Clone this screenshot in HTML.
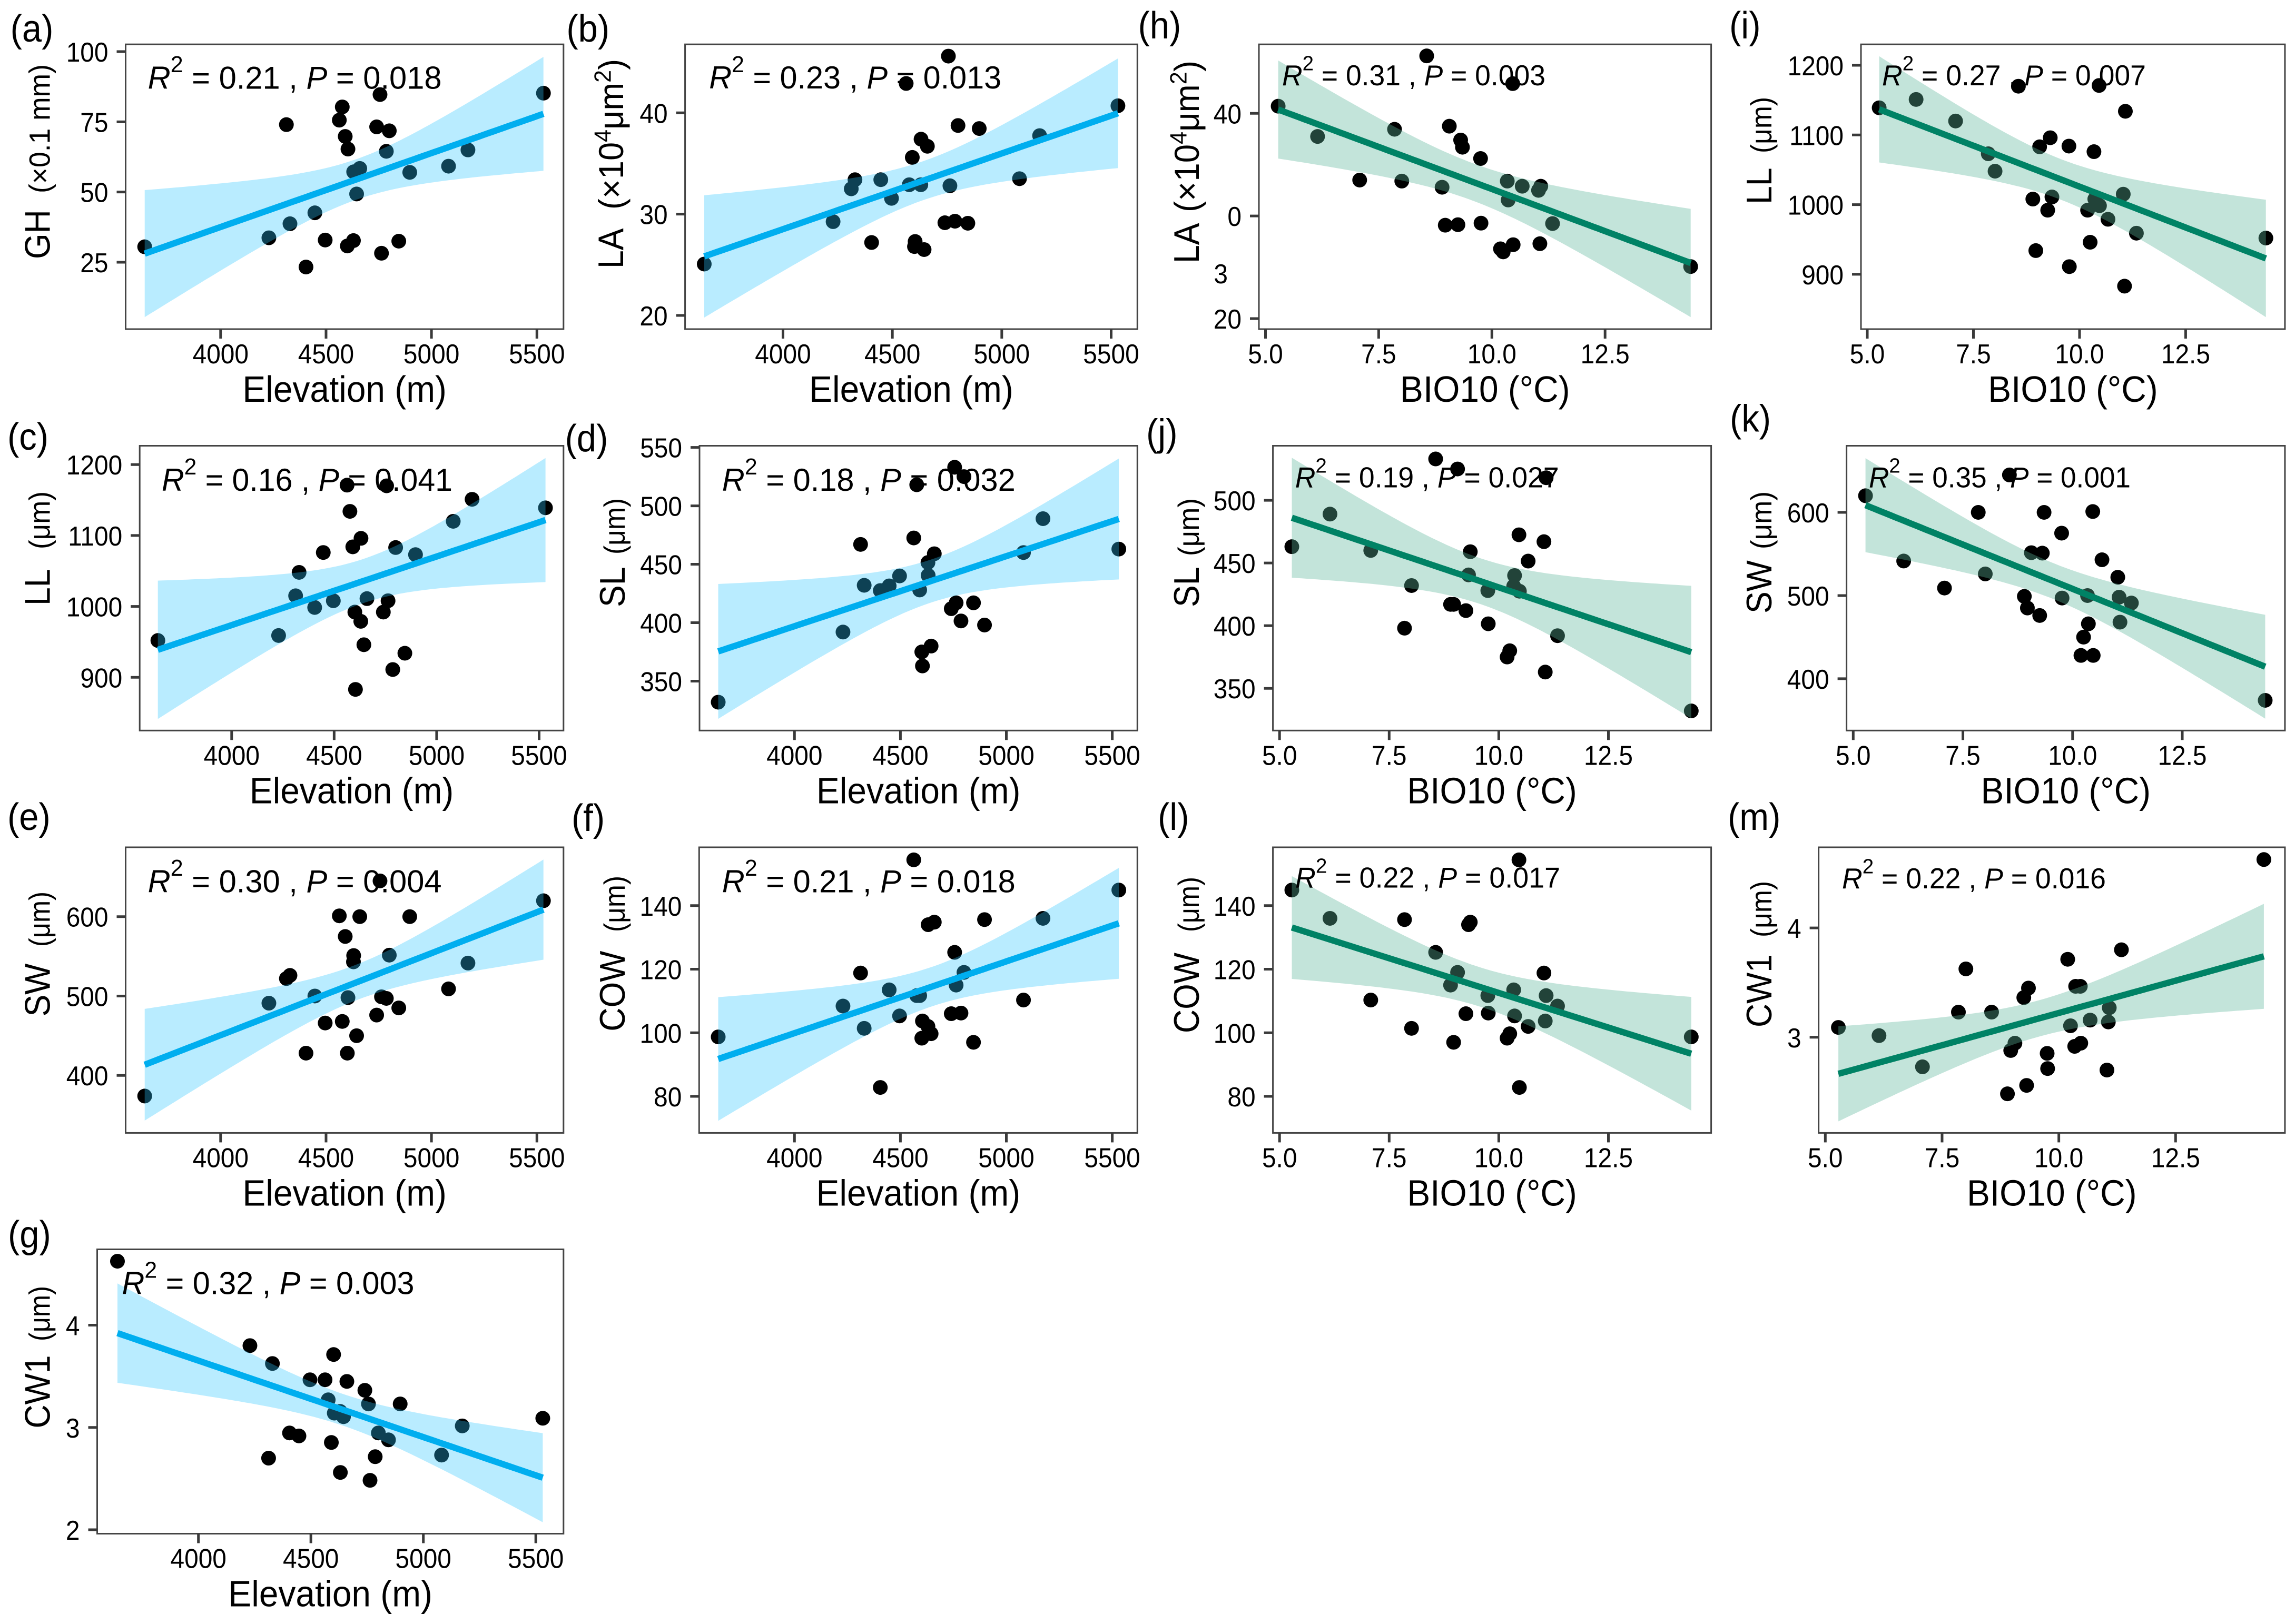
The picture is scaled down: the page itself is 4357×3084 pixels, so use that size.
<!DOCTYPE html>
<html lang="en">
<head>
<meta charset="utf-8">
<title>Trait regressions against elevation and BIO10</title>
<style>
html,body{margin:0;padding:0;background:#fff;}
svg{display:block;font-family:"Liberation Sans",Arial,sans-serif;}
</style>
</head>
<body>
<svg id="figure" xmlns="http://www.w3.org/2000/svg" width="4357" height="3084" viewBox="0 0 4357 3084">
<rect x="0" y="0" width="4357" height="3084" fill="#ffffff"></rect>
</svg>
<script>
// ---- values (one entry per site, same order everywhere) ----
const elevation = [3640,4229,4312,4329,4405,4447,4496,4563,4577,4591,4604,4601,4630,4631,4660,4645,4740,4756,4763,4786,4800,4845,4897,5081,5173,5531];
const bio10 = [14.39,11.34,11.03,8.01,10.47,10.34,10.36,10.46,11.08,9.75,11.06,10.19,10.67,9.31,9.35,10.25,9.25,8.56,8.9,9.76,9.06,8.97,7.85,7.08,6.15,5.28];
const gh = [30.5,33.7,74,38.7,23.3,42.6,32.9,75.6,80.3,69.8,65.3,30.8,32.7,57.2,58.4,49.3,73.2,84.7,28.2,64.5,71.8,32.5,57,59.2,65,85.2];
const la = [25.07,29.26,32.5,33.4,27.2,33.4,31.56,42.9,32.9,35.6,27.3,26.8,32.9,37.4,36.7,26.5,29.15,45.6,32.8,29.3,38.75,29.1,38.45,33.5,37.75,40.7];
const ll = [952,959,1015,1048,998.5,1076,1008,1171,1134,1084,883,992,979,1096,1011,946,992,1170,1008,911,1083,934,1073,1120,1151,1139];
const sl = [332,392,467,432,427.5,431.5,440,472.5,518,428,363,375,451.5,440.5,459,380,412,533,417,401.5,525,417,398,460,489,463];
const sw = [374,491,522,526,428,500,466,601,468,575,498,428,543,551,600,450,476,645,499,497,551.5,485,600,509,541.5,620];
const cow = [98.7,108.4,118.8,101.4,82.8,113.5,105.3,154.4,111.7,111.7,103.7,98.3,102,134,134.8,99.7,106,125.3,115,106.2,119,97,135.6,110.3,136,144.9];
const cw1 = [4.625,3.8,2.7,3.625,2.946,2.917,3.466,3.466,3.27,2.853,3.14,3.713,3.157,2.56,3.45,3.105,3.363,3.23,2.483,2.714,2.946,2.879,3.23,2.73,3.015,3.09];

// ---- tick values and their printed labels ----
const elevTicks = [4000,4500,5000,5500];
const elevTickLabels = ['4000','4500','5000','5500'];
const bioTicks = [5,7.5,10,12.5];
const bioTickLabels = ['5.0','7.5','10.0','12.5'];
const ghTicks = [25,50,75,100];
const laTicks = [20,30,40];
const laGarbledTickLabels = ['20','0','40'];
const llTicks = [900,1000,1100,1200];
const slTicksLong = [350,400,450,500,550];
const slTicksShort = [350,400,450,500];
const swTicks = [400,500,600];
const cowTicks = [80,100,120,140];
const cw1TicksLong = [2,3,4];
const cw1TicksShort = [3,4];

// ---- panel definitions ----
const panels = [
 {id:'a',xv:elevation,yv:gh, xt:elevTicks,xl:elevTickLabels,yt:ghTicks,yl:ghTicks.map(String),xTitle:'Elevation (m)',main:'GH',unit:[['(×0.1 mm)',0]],r2:'0.21',p:'0.018',theme:'blue',
  L:238.5,R:1069.8,T:84.2,B:625,xc:[4000,418.8,5500,1019.3],yc:[100,98,25,498],lab:[19.6,79],ax:94.7,main0:492,unit0:367,unit1:122,ann:[280.6,168.4,55,558]},
 {id:'b',xv:elevation,yv:la, xt:elevTicks,xl:elevTickLabels,yt:laTicks,yl:laTicks.map(String),xTitle:'Elevation (m)',main:'LA',unit:[['(×10',0],['4',1],['μm',0],['2',1],[')',0]],r2:'0.23',p:'0.013',theme:'blue',
  L:1300.6,R:2159.3,T:84.2,B:625,xc:[4000,1486.5,5500,2109.5],yc:[40,214.3,20,599],lab:[1075.4,79],ax:1183,main0:510,unit0:398,unit1:112,ann:[1346.2,168,55,555]},
 {id:'c',xv:elevation,yv:ll, xt:elevTicks,xl:elevTickLabels,yt:llTicks,yl:llTicks.map(String),xTitle:'Elevation (m)',main:'LL',unit:[['(μm)',0]],r2:'0.16',p:'0.041',theme:'blue',
  L:265.2,R:1069.8,T:846.5,B:1387.3,xc:[4000,439.8,5500,1023.5],yc:[1200,882.2,900,1286.3],lab:[14,854],ax:94.7,main0:1150,unit0:1043,unit1:933,ann:[307,932,55,552]},
 {id:'d',xv:elevation,yv:sl, xt:elevTicks,xl:elevTickLabels,yt:slTicksLong,yl:slTicksLong.map(String),xTitle:'Elevation (m)',main:'SL',unit:[['(μm)',0]],r2:'0.18',p:'0.032',theme:'blue',
  L:1328,R:2159.3,T:846.5,B:1387.3,xc:[4000,1508.3,5500,2111.6],yc:[550,849.6,350,1293.5],lab:[1072.6,857],ax:1186,main0:1153,unit0:1053,unit1:946,ann:[1370.8,932,55,557]},
 {id:'e',xv:elevation,yv:sw, xt:elevTicks,xl:elevTickLabels,yt:swTicks,yl:swTicks.map(String),xTitle:'Elevation (m)',main:'SW',unit:[['(μm)',0]],r2:'0.30',p:'0.004',theme:'blue',
  L:238.5,R:1069.8,T:1609,B:2151.4,xc:[4000,418.8,5500,1019.3],yc:[600,1740.7,400,2042.2],lab:[14,1576],ax:94.7,main0:1930.5,unit0:1798,unit1:1693,ann:[280.6,1694.3,55,558]},
 {id:'f',xv:elevation,yv:cow,xt:elevTicks,xl:elevTickLabels,yt:cowTicks,yl:cowTicks.map(String),xTitle:'Elevation (m)',main:'COW',unit:[['(μm)',0]],r2:'0.21',p:'0.018',theme:'blue',
  L:1327.3,R:2159.3,T:1609,B:2151.4,xc:[4000,1508.3,5500,2111.6],yc:[140,1719.8,80,2082],lab:[1085,1578],ax:1186,main0:1958.6,unit0:1770,unit1:1663,ann:[1370.8,1694.3,55,557]},
 {id:'g',xv:elevation,yv:cw1,xt:elevTicks,xl:elevTickLabels,yt:cw1TicksLong,yl:cw1TicksLong.map(String),xTitle:'Elevation (m)',main:'CW1',unit:[['(μm)',0]],r2:'0.32',p:'0.003',theme:'blue',
  L:184.5,R:1069.8,T:2372.5,B:2912.5,xc:[4000,376.7,5500,1017.2],yc:[4,2516.5,2,2905],lab:[15,2369],ax:94.7,main0:2712.5,unit0:2547,unit1:2442,ann:[231.5,2457.5,55,555]},
 {id:'h',xv:bio10,yv:la, xt:bioTicks,xl:bioTickLabels,yt:laTicks,yl:laGarbledTickLabels,xTitle:'BIO10 (°C)',main:'LA',unit:[['(×10',0],['4',1],['μm',0],['2',1],[')',0]],r2:'0.31',p:'0.003',theme:'green',
  L:2390,R:3248.6,T:84.2,B:625,xc:[5,2402.5,12.5,3047.2],yc:[40,215.3,20,605],lab:[2160.5,73],ax:2276,main0:500,unit0:403,unit1:115,ann:[2434,162,50,500],stray:{text:'3',x:2331,y:538}},
 {id:'i',xv:bio10,yv:ll, xt:bioTicks,xl:bioTickLabels,yt:llTicks,yl:llTicks.map(String),xTitle:'BIO10 (°C)',main:'LL',unit:[['(μm)',0]],r2:'0.27',p:'0.007',theme:'green',
  L:3533,R:4337.9,T:84.2,B:625,xc:[5,3545,12.5,4149.4],yc:[1200,124,900,520.9],lab:[3283,73],ax:3363,main0:388,unit0:291,unit1:184,ann:[3573,162,50,501]},
 {id:'j',xv:bio10,yv:sl, xt:bioTicks,xl:bioTickLabels,yt:slTicksShort,yl:slTicksShort.map(String),xTitle:'BIO10 (°C)',main:'SL',unit:[['(μm)',0]],r2:'0.19',p:'0.027',theme:'green',
  L:2416.6,R:3248.6,T:846.5,B:1387.3,xc:[5,2429.2,12.5,3053.5],yc:[500,950.1,350,1307.2],lab:[2176,846.5],ax:2276,main0:1153,unit0:1056,unit1:946,ann:[2458.7,925.6,50,501]},
 {id:'k',xv:bio10,yv:sw, xt:bioTicks,xl:bioTickLabels,yt:swTicks,yl:swTicks.map(String),xTitle:'BIO10 (°C)',main:'SW',unit:[['(μm)',0]],r2:'0.35',p:'0.001',theme:'green',
  L:3505.6,R:4337.9,T:846.5,B:1387.3,xc:[5,3518.3,12.5,4143],yc:[600,973,400,1288.9],lab:[3284,819.5],ax:3363,main0:1165,unit0:1043,unit1:933,ann:[3548,925.6,50,497]},
 {id:'l',xv:bio10,yv:cow,xt:bioTicks,xl:bioTickLabels,yt:cowTicks,yl:cowTicks.map(String),xTitle:'BIO10 (°C)',main:'COW',unit:[['(μm)',0]],r2:'0.22',p:'0.017',theme:'green',
  L:2416.6,R:3248.6,T:1609,B:2151.4,xc:[5,2429.2,12.5,3053.5],yc:[140,1719.8,80,2082],lab:[2198,1576],ax:2276,main0:1962,unit0:1770,unit1:1665,ann:[2459,1685.6,50,503]},
 {id:'m',xv:bio10,yv:cw1,xt:bioTicks,xl:bioTickLabels,yt:cw1TicksShort,yl:cw1TicksShort.map(String),xTitle:'BIO10 (°C)',main:'CW1',unit:[['(μm)',0]],r2:'0.22',p:'0.016',theme:'green',
  L:3452.6,R:4337.9,T:1609,B:2151.4,xc:[5,3465.3,12.5,4130.3],yc:[4,1762.1,3,1969.8],lab:[3280,1576],ax:3363,main0:1951,unit0:1780,unit1:1673,ann:[3497,1687,50,501]}
];

const themes = {
  blue:{line:'#00AEEF',band:'rgba(42,197,255,0.33)'},
  green:{line:'#008265',band:'rgba(93,182,155,0.37)'}
};

const NS = 'http://www.w3.org/2000/svg';
const root = document.getElementById('figure');
const AXIS = '#444444';
const TICK = '#3a3a3a';
const INK = '#000000';

function make(tag, attrs, parent, text){
  const el = document.createElementNS(NS, tag);
  for (const k in attrs) el.setAttribute(k, attrs[k]);
  if (text !== undefined) el.textContent = text;
  parent.appendChild(el);
  return el;
}

// the reference text is taller than it is wide: squeeze glyphs horizontally
function squeeze(el, factor){
  el.setAttribute('textLength', (el.getComputedTextLength()*factor).toFixed(1));
  el.setAttribute('lengthAdjust', 'spacingAndGlyphs');
}

// axis function: linear mapping through two calibration points [v0, px0, v1, px1]
function axisScale(c){
  const k = (c[3] - c[1]) / (c[2] - c[0]);
  return function(v){ return c[1] + (v - c[0]) * k; };
}

// ordinary least squares fit with 95% pointwise confidence band
function fit(xs, ys){
  const n = xs.length;
  const mx = xs.reduce((a,b)=>a+b,0)/n;
  const my = ys.reduce((a,b)=>a+b,0)/n;
  let sxx = 0, sxy = 0;
  for (let i=0;i<n;i++){ sxx += (xs[i]-mx)*(xs[i]-mx); sxy += (xs[i]-mx)*(ys[i]-my); }
  const b = sxy/sxx, a = my - b*mx;
  let sse = 0;
  for (let i=0;i<n;i++){ const r = ys[i]-(a+b*xs[i]); sse += r*r; }
  const s = Math.sqrt(sse/(n-2));
  const tcrit = 2.064;
  return {
    at:function(x){ return a+b*x; },
    half:function(x){ return tcrit*s*Math.sqrt(1/n+(x-mx)*(x-mx)/sxx); }
  };
}

panels.forEach(function(p){
  const g = make('g', {}, root);
  
  

  const sx = axisScale(p.xc);
  const sy = axisScale(p.yc);
  const theme = themes[p.theme];

  // panel letter
  const letter = make('text', {x:p.lab[0], y:p.lab[1], 'font-size':72, fill:INK}, g, '(' + p.id + ')');
  
  
  squeeze(letter, 0.93);

  // points first; the ribbon is translucent on top of them
  const pts = make('g', {}, g);
  
  
  p.xv.forEach(function(xVal, i){
    const dot = make('circle', {cx:sx(xVal), cy:sy(p.yv[i]), r:14, fill:'#000000'}, pts);
    
    
  });

  // regression line + confidence ribbon
  const model = fit(p.xv, p.yv);
  const lo = Math.min.apply(null, p.xv);
  const hi = Math.max.apply(null, p.xv);
  const STEPS = 80;
  const upper = [], lower = [], centre = [];
  for (let i=0;i<=STEPS;i++){
    const x = lo + (hi-lo)*i/STEPS;
    const yh = model.at(x), h = model.half(x);
    upper.push(sx(x).toFixed(1)+','+sy(yh+h).toFixed(1));
    lower.unshift(sx(x).toFixed(1)+','+sy(yh-h).toFixed(1));
    centre.push(sx(x).toFixed(1)+','+sy(yh).toFixed(1));
  }
  const band = make('polygon', {points:upper.concat(lower).join(' '), fill:theme.band, stroke:'none'}, g);
  
  
  const line = make('polyline', {points:centre.join(' '), fill:'none', stroke:theme.line, 'stroke-width':12}, g);
  
  

  // panel border
  const frame = make('rect', {x:p.L, y:p.T, width:p.R-p.L, height:p.B-p.T, fill:'none', stroke:AXIS, 'stroke-width':3}, g);
  
  

  // x axis
  p.xt.forEach(function(v, i){
    const X = sx(v);
    const tick = make('line', {x1:X, x2:X, y1:p.B, y2:p.B+18, stroke:TICK, 'stroke-width':5}, g);
    
    
    const lab = make('text', {x:X, y:p.B+65, 'font-size':52, 'text-anchor':'middle', fill:INK}, g, p.xl[i]);
    
    
    squeeze(lab, 0.92);
  });
  const xTitle = make('text', {x:(p.L+p.R)/2, y:p.B+138, 'font-size':70, 'text-anchor':'middle', fill:INK}, g, p.xTitle);
  
  
  squeeze(xTitle, 0.94);

  // y axis
  p.yt.forEach(function(v, i){
    const Y = sy(v);
    const tick = make('line', {x1:p.L-17, x2:p.L, y1:Y, y2:Y, stroke:TICK, 'stroke-width':5}, g);
    
    
    const lab = make('text', {x:p.L-33, y:Y+19, 'font-size':52, 'text-anchor':'end', fill:INK}, g, p.yl[i]);
    
    
    squeeze(lab, 0.92);
  });
  if (p.stray){
    const stray = make('text', {x:p.stray.x, y:p.stray.y, 'font-size':52, 'text-anchor':'end', fill:INK}, g, p.stray.text);
    
    
    squeeze(stray, 0.92);
  }

  // y title: large trait name + unit, rotated
  const yMain = make('text', {transform:'translate('+p.ax+','+p.main0+') rotate(-90)', 'font-size':68, fill:INK}, g, p.main);
  
  
  squeeze(yMain, 0.92);
  const hasSup = p.unit.length > 1;
  const uSize = hasSup ? 66 : 56;
  const yUnit = make('text', {transform:'translate('+p.ax+','+p.unit0+') rotate(-90)', 'font-size':uSize, fill:INK, textLength:p.unit0-p.unit1, lengthAdjust:'spacingAndGlyphs'}, g);
  
  
  let prevSup = 0;
  p.unit.forEach(function(u){
    const attrs = {};
    if (u[1]) { attrs['font-size'] = uSize*0.68; attrs.dy = -uSize*0.36; }
    else if (prevSup) { attrs.dy = uSize*0.36; }
    make('tspan', attrs, yUnit, u[0]);
    prevSup = u[1];
  });

  // R2 / P annotation
  const F = p.ann[2]*1.09;
  const note = make('text', {x:p.ann[0], y:p.ann[1], 'font-size':F, fill:INK, textLength:p.ann[3], lengthAdjust:'spacingAndGlyphs'}, g);
  
  
  make('tspan', {'font-style':'italic'}, note, 'R');
  make('tspan', {'font-size':F*0.72, dy:-F*0.52}, note, '2');
  make('tspan', {dy:F*0.52}, note, ' = ' + p.r2 + ' , ');
  make('tspan', {'font-style':'italic'}, note, 'P');
  make('tspan', {}, note, ' = ' + p.p);
});
</script>
</body>
</html>
